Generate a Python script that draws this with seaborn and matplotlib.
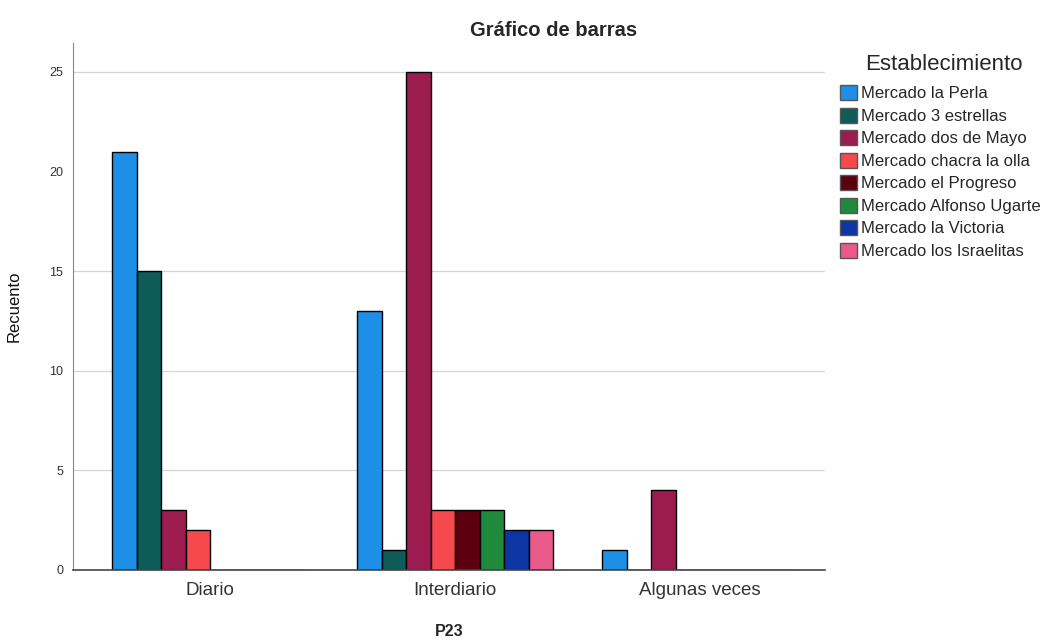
import pandas as pd
import matplotlib.pyplot as plt
import seaborn as sns
from matplotlib.patches import Patch

# Frequency of purchase (P23) by market
frecuencia = ["Diario", "Interdiario", "Algunas veces"]
mercados = [
    "Mercado la Perla",
    "Mercado 3 estrellas",
    "Mercado dos de Mayo",
    "Mercado chacra la olla",
    "Mercado el Progreso",
    "Mercado Alfonso Ugarte",
    "Mercado la Victoria",
    "Mercado los Israelitas",
]
diario = [21, 15, 3, 2, 0, 0, 0, 0]
interdiario = [13, 1, 25, 3, 3, 3, 2, 2]
algunas_veces = [1, 0, 4, 0, 0, 0, 0, 0]
colores = ["#1E8FE6", "#0D5C58", "#9C1C50", "#F5494E",
           "#5C0010", "#1F8A3B", "#0D35A3", "#E95A8A"]
grid_vals = [5, 10, 15, 25]

rows = []
for f, vals in zip(frecuencia, [diario, interdiario, algunas_veces]):
    for m, v in zip(mercados, vals):
        rows.append({"P23": f, "Establecimiento": m, "Recuento": v})
df = pd.DataFrame(rows)

sns.set_style("white")
plt.rcParams["font.family"] = ["Liberation Sans", "DejaVu Sans"]

fig = plt.figure(figsize=(10.48, 6.41), dpi=100)
ax = fig.add_axes([0.0697, 0.111, 0.7175, 0.822])

sns.barplot(data=df, x="P23", y="Recuento", hue="Establecimiento",
            order=frecuencia, hue_order=mercados, palette=colores,
            saturation=1, width=0.8, edgecolor="black", linewidth=1.0,
            legend=False, ax=ax)

ax.set_xlim(-0.56, 2.51)
ax.set_ylim(0, 26.45)
ax.set_yticks([0, 5, 10, 15, 20, 25])
for g in grid_vals:
    ax.axhline(g, color="#d4d4d4", linewidth=0.9, zorder=0)
ax.tick_params(axis="y", length=0, labelsize=9, colors="#333333", pad=7)
ax.tick_params(axis="x", length=0, labelsize=13.5, colors="#333333", pad=9)
for s in ["top", "right"]:
    ax.spines[s].set_visible(False)
ax.spines["left"].set_color("#888888")
ax.spines["bottom"].set_color("#444444")
ax.spines["bottom"].set_linewidth(1.2)

ax.set_xlabel("P23", fontsize=11.5, fontweight="bold", labelpad=18)
ax.set_ylabel("Recuento", fontsize=12, color="#111111")
ax.yaxis.set_label_coords(-0.068, 0.5)
fig.text(554 / 1048, 1 - 30 / 641, "Gráfico de barras", ha="center", va="center",
         fontsize=14.5, fontweight="bold")

# legend (title placed separately to match the spacing)
fig.text(944 / 1048, 1 - 65 / 641, "Establecimiento", ha="center", va="center",
         fontsize=16)
handles = [Patch(facecolor=c, edgecolor="#555555", label=m) for c, m in zip(colores, mercados)]
leg = fig.legend(handles=handles, loc="upper left",
                 bbox_to_anchor=(0.8015, 0.867), frameon=False, fontsize=12,
                 handlelength=1.0, handleheight=1.0,
                 handletextpad=0.25, labelspacing=0.38, borderpad=0,
                 borderaxespad=0)

fig.savefig("out.png", dpi=100)
